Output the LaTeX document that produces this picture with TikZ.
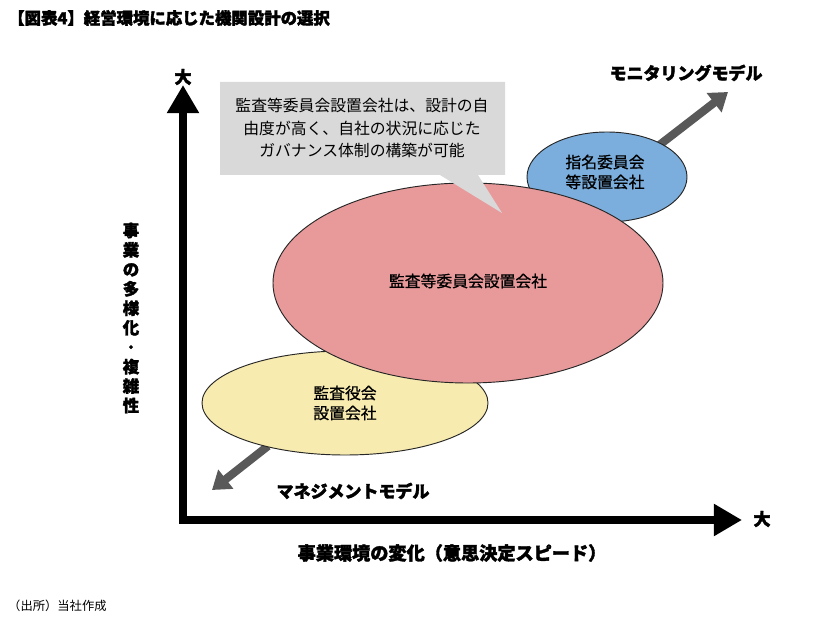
\documentclass[tikz,border=0pt]{standalone}
\usepackage{fontspec}
\setmainfont{Noto Sans CJK JP}
\newfontfamily\cjkb[FakeBold=2]{Noto Sans CJK JP}
\newfontfamily\cjkm[FakeBold=0.8]{Noto Sans CJK JP}
\usetikzlibrary{arrows.meta,shapes.geometric}
\definecolor{pinkf}{HTML}{E89A9B}
\definecolor{yelf}{HTML}{F7EBB0}
\definecolor{bluef}{HTML}{7BAEDC}
\definecolor{callf}{HTML}{D9D9D9}
\definecolor{garr}{HTML}{595959}
\begin{document}
\begin{tikzpicture}[x=0.03cm,y=-0.03cm,
  lbl/.style={font=\cjkm\fontsize{13.5pt}{17pt}\selectfont, align=center, inner sep=0},
  bl/.style={font=\cjkb\bfseries\fontsize{14.5pt}{17pt}\selectfont, inner sep=0},
  ax/.style={line width=6pt, -{Triangle[length=24pt,width=26pt]}},
  gar/.style={line width=7pt, draw=garr, -{Triangle[length=15pt,width=20pt]}},
  ell/.style={draw=black!85, line width=0.8pt}]
\useasboundingbox (0,0) rectangle (829,625);
\node[anchor=west, font=\cjkb\bfseries\fontsize{14pt}{16pt}\selectfont, inner sep=0] (title) at (8,18) {【図表4】経営環境に応じた機関設計の選択};
% axes
\coordinate (o) at (183,520);
\coordinate (ytop) at (183,85);
\coordinate (xend) at (742,520);
\draw[ax] ([yshift=-3pt]o) -- (ytop);
\draw[ax] ([xshift=-3pt]o) -- (xend);
\node[bl] (ybig) at (183,77) {大};
\node[bl] (xbig) at (762,519) {大};
\node[bl, align=center, font=\cjkb\bfseries\fontsize{14pt}{16.6pt}\selectfont] (ylab) at (131,318) {事\\業\\の\\多\\様\\化\\･\\複\\雑\\性};
\node[bl, font=\cjkb\bfseries\fontsize{15.5pt}{17pt}\selectfont] (xlab) at (452,553) {事業環境の変化（意思決定スピード）};
% gray arrows
\coordinate (ms) at (640,160); \coordinate (me) at (728,92);
\draw[gar] (ms) -- (me);
\coordinate (ns) at (268,446); \coordinate (ne) at (212,490);
\draw[gar] (ns) -- (ne);
\node[bl] (mon) at (686,73) {モニタリングモデル};
\node[bl] (man) at (353,491) {マネジメントモデル};
% ellipses
\node[ell, fill=yelf, ellipse, minimum width=8.58cm, minimum height=3.12cm, inner sep=0] (yel) at (345,403) {};
\node[lbl] at (yel) {監査役会\\設置会社};
\node[ell, fill=bluef, ellipse, minimum width=4.8cm, minimum height=2.7cm, inner sep=0] (blu) at (607,177) {};
\node[lbl] at (605,172) {指名委員会\\等設置会社};
\node[ell, fill=pinkf, ellipse, minimum width=11.7cm, minimum height=6.0cm, inner sep=0] (pnk) at (468,283) {};
\node[lbl] at (468,281) {監査等委員会設置会社};
% callout
\coordinate (tip) at (502,213);
\fill[callf] (220,82) -- (505,82) -- (505,175) -- (478,175) -- (tip) -- (440,175) -- (220,175) -- cycle;
\node[lbl, font=\fontsize{13.5pt}{19.5pt}\selectfont] (call) at (362,128) {監査等委員会設置会社は、設計の自\\由度が高く、自社の状況に応じた\\ガバナンス体制の構築が可能};
\node[anchor=west, inner sep=0, font=\fontsize{10.5pt}{12pt}\selectfont] (src) at (8,606) {（出所）当社作成};
\end{tikzpicture}
\end{document}
